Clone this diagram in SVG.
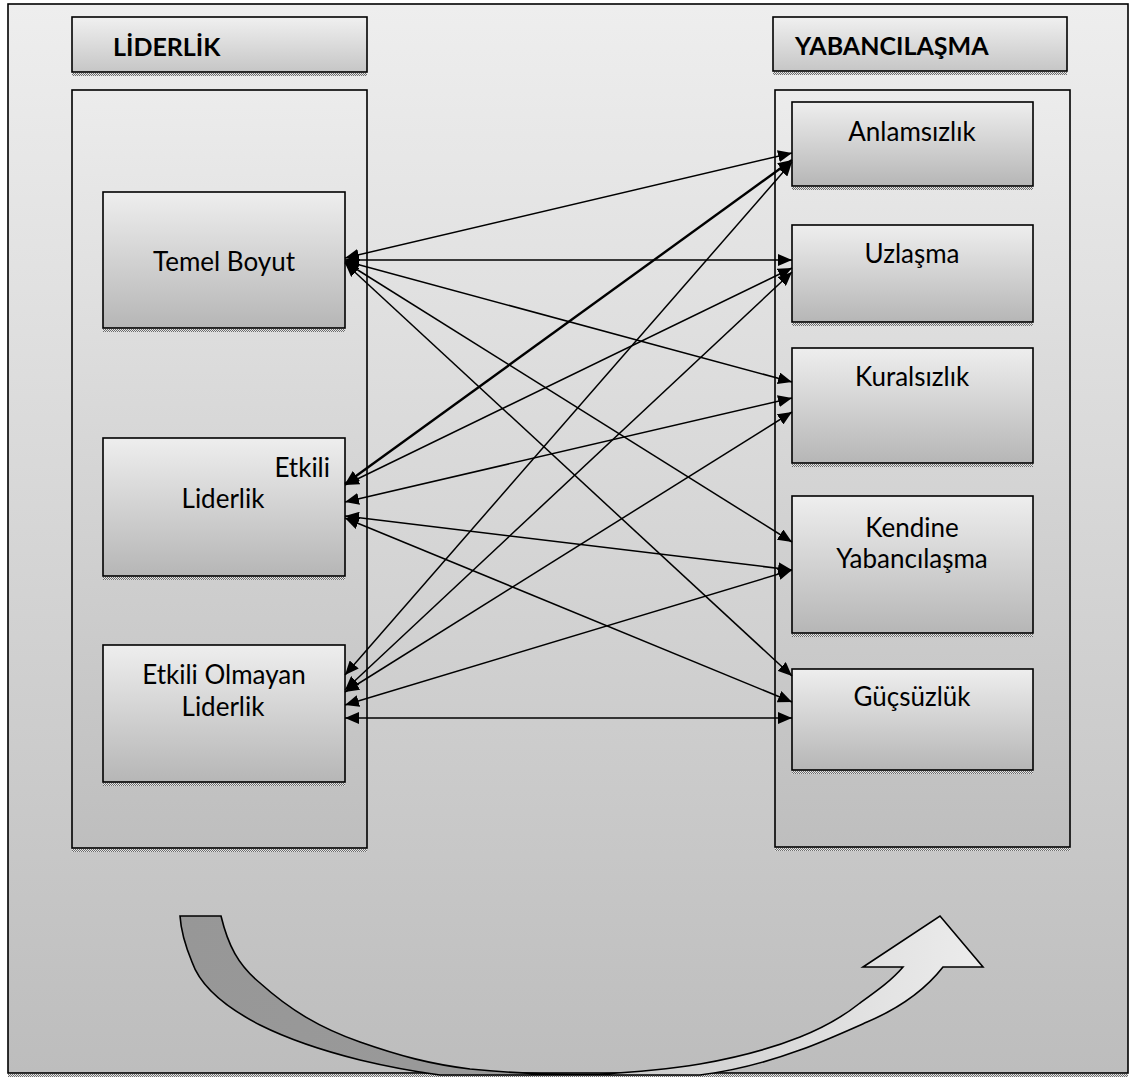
<svg xmlns="http://www.w3.org/2000/svg" width="1130" height="1077" viewBox="0 0 1130 1077">
<defs>
<linearGradient id="bg" x1="0" y1="0" x2="0" y2="1">
<stop offset="0" stop-color="#eeeeee"/><stop offset="1" stop-color="#bdbdbd"/>
</linearGradient>
<linearGradient id="cont" x1="0" y1="0" x2="0" y2="1">
<stop offset="0" stop-color="#ececec"/><stop offset="1" stop-color="#bebebe"/>
</linearGradient>
<linearGradient id="box" x1="0" y1="0" x2="0" y2="1">
<stop offset="0" stop-color="#eeeeee"/><stop offset="1" stop-color="#b6b6b6"/>
</linearGradient>
<linearGradient id="hdr" x1="0" y1="0" x2="0" y2="1">
<stop offset="0" stop-color="#f0f0f0"/><stop offset="1" stop-color="#c6c6c6"/>
</linearGradient>
<linearGradient id="arrowFill" x1="180" y1="0" x2="983" y2="0" gradientUnits="userSpaceOnUse">
<stop offset="0" stop-color="#979797"/><stop offset="0.44" stop-color="#9a9a9a"/><stop offset="0.5" stop-color="#c8c8c8"/><stop offset="1" stop-color="#ececec"/>
</linearGradient>
<pattern id="dots" width="2" height="2" patternUnits="userSpaceOnUse">
<rect width="2" height="2" fill="#e6e6e6"/><rect width="1" height="1" fill="#6e6e6e"/><rect x="1" y="1" width="1" height="1" fill="#6e6e6e"/>
</pattern>
<marker id="ah" viewBox="0 0 14 12" refX="14" refY="6" markerWidth="14" markerHeight="12" markerUnits="userSpaceOnUse" orient="auto-start-reverse">
<path d="M0,0 L14,6 L0,12 Z" fill="#000"/>
</marker>
</defs>
<style>
.frame{stroke:#000;stroke-width:1.6}
.shadow{fill:url(#dots)}
.hdr{font-family:Lato,"Open Sans","Liberation Sans",sans-serif;font-weight:bold;font-size:25px;fill:#000}
.lbl{font-family:Lato,"Open Sans","Liberation Sans",sans-serif;font-size:26px;fill:#000}
.conn line{stroke:#000;stroke-width:1.5;marker-start:url(#ah);marker-end:url(#ah)}
</style>

<g id="background">
<rect x="8" y="4" width="1120" height="1069" fill="url(#bg)" class="frame"/>
<rect x="8" y="1074" width="1120" height="3" class="shadow"/>
</g>

<g id="header-liderlik">
<rect x="72" y="17" width="295" height="55" fill="url(#hdr)" class="frame"/>
<rect x="72" y="73" width="295" height="3" class="shadow"/>
<text x="113" y="56" class="hdr">LİDERLİK</text>
</g>
<g id="header-yabancilasma">
<rect x="773" y="17" width="294" height="54" fill="url(#hdr)" class="frame"/>
<rect x="773" y="72" width="294" height="3" class="shadow"/>
<text x="795" y="55" class="hdr">YABANCILAŞMA</text>
</g>

<g id="container-left">
<rect x="72" y="90" width="295" height="758" fill="url(#cont)" class="frame"/>
<rect x="72" y="849" width="295" height="3" class="shadow"/>
</g>
<g id="container-right">
<rect x="775" y="90" width="295" height="757" fill="url(#cont)" class="frame"/>
<rect x="775" y="848" width="295" height="3" class="shadow"/>
</g>

<g id="node-temel">
<rect x="103" y="192" width="242" height="136" fill="url(#box)" class="frame"/>
<rect x="103" y="329" width="242" height="3" class="shadow"/>
<text x="224" y="271" class="lbl" text-anchor="middle">Temel Boyut</text>
</g>
<g id="node-etkili">
<rect x="103" y="438" width="242" height="138" fill="url(#box)" class="frame"/>
<rect x="103" y="577" width="242" height="3" class="shadow"/>
<text x="330" y="477" class="lbl" text-anchor="end">Etkili</text>
<text x="223" y="508" class="lbl" text-anchor="middle">Liderlik</text>
</g>
<g id="node-etkili-olmayan">
<rect x="103" y="645" width="242" height="137" fill="url(#box)" class="frame"/>
<rect x="103" y="783" width="242" height="3" class="shadow"/>
<text x="224" y="684" class="lbl" text-anchor="middle">Etkili Olmayan</text>
<text x="223" y="716" class="lbl" text-anchor="middle">Liderlik</text>
</g>

<g id="node-anlamsizlik">
<rect x="792" y="102" width="241" height="84" fill="url(#box)" class="frame"/>
<rect x="792" y="187" width="241" height="3" class="shadow"/>
<text x="912" y="141" class="lbl" text-anchor="middle">Anlamsızlık</text>
</g>
<g id="node-uzlasma">
<rect x="792" y="225" width="241" height="97" fill="url(#box)" class="frame"/>
<rect x="792" y="323" width="241" height="3" class="shadow"/>
<text x="912" y="263" class="lbl" text-anchor="middle">Uzlaşma</text>
</g>
<g id="node-kuralsizlik">
<rect x="792" y="348" width="241" height="115" fill="url(#box)" class="frame"/>
<rect x="792" y="464" width="241" height="3" class="shadow"/>
<text x="912" y="386" class="lbl" text-anchor="middle">Kuralsızlık</text>
</g>
<g id="node-kendine">
<rect x="792" y="496" width="241" height="137" fill="url(#box)" class="frame"/>
<rect x="792" y="634" width="241" height="3" class="shadow"/>
<text x="912" y="537" class="lbl" text-anchor="middle">Kendine</text>
<text x="912" y="568" class="lbl" text-anchor="middle">Yabancılaşma</text>
</g>
<g id="node-gucsuzluk">
<rect x="792" y="669" width="241" height="101" fill="url(#box)" class="frame"/>
<rect x="792" y="771" width="241" height="3" class="shadow"/>
<text x="912" y="706" class="lbl" text-anchor="middle">Güçsüzlük</text>
</g>

<g id="connectors" class="conn">
<line x1="345" y1="258" x2="792" y2="153"/>
<line x1="345" y1="260" x2="792" y2="260"/>
<line x1="345" y1="261" x2="792" y2="382"/>
<line x1="345" y1="262" x2="792" y2="542"/>
<line x1="345" y1="263" x2="792" y2="676"/>
<line x1="345" y1="484" x2="792" y2="160" style="stroke-width:2.4"/>
<line x1="345" y1="485" x2="792" y2="268"/>
<line x1="345" y1="502" x2="792" y2="398"/>
<line x1="345" y1="516" x2="792" y2="570"/>
<line x1="345" y1="518" x2="792" y2="702"/>
<line x1="345" y1="675" x2="792" y2="162"/>
<line x1="345" y1="690" x2="792" y2="272"/>
<line x1="345" y1="692" x2="792" y2="412"/>
<line x1="345" y1="705" x2="792" y2="570"/>
<line x1="345" y1="718" x2="792" y2="718"/>
</g>

<g id="curved-arrow">
<path d="M180,916 L221,916 C228,945 238,965 260,983 C290,1010 320,1028 360,1042 C400,1056 430,1064 470,1069 C520,1074 560,1075 600,1074 C640,1072 670,1069 700,1064 C740,1057 775,1047 800,1037 C825,1027 845,1015 860,1003 C878,990 892,980 903,967 L863,967 L940,916 L983,967 L943,967 C925,990 900,1008 867,1022 C840,1034 820,1043 800,1050 C770,1061 740,1070 700,1075 L440,1075 C410,1071 385,1066 360,1060 C320,1050 290,1040 260,1025 C225,1007 200,985 192,962 C185,945 181,932 180,916 Z" fill="url(#arrowFill)" stroke="#000" stroke-width="1.6" stroke-linejoin="miter"/>
</g>
</svg>
